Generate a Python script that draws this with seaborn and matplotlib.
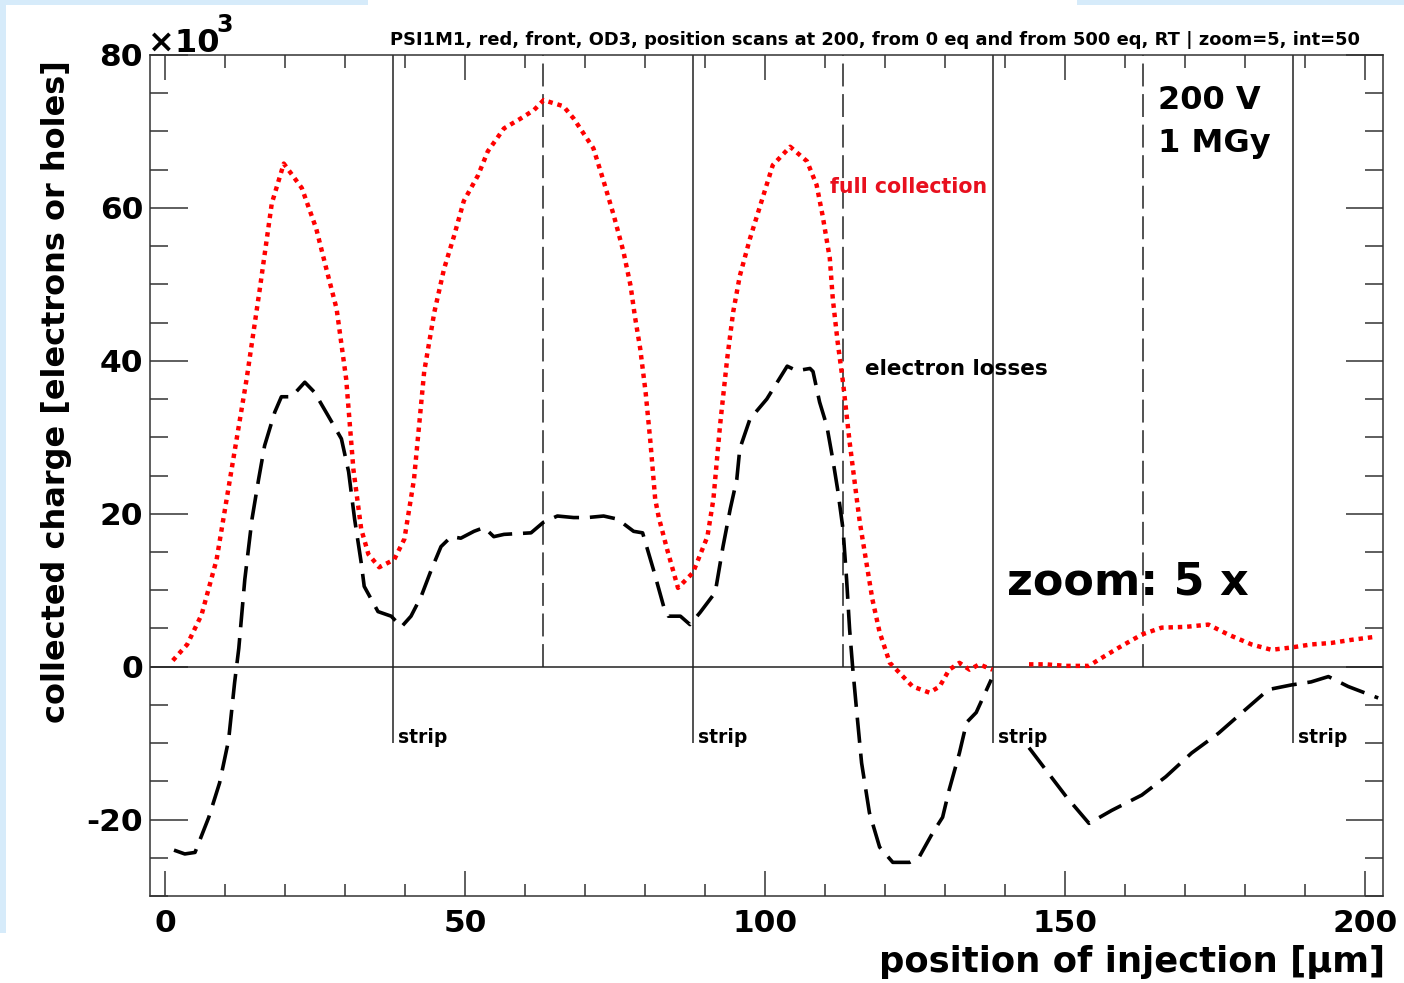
import numpy as np
import pandas as pd
import seaborn as sns
import matplotlib.pyplot as plt
from matplotlib.patches import Rectangle
from matplotlib.ticker import MultipleLocator

# full collection (red dotted): position [um] vs charge [10^3]
pos_full = [1.3, 3.7, 6.1, 8.6, 11.1, 13.6, 15.8, 17.8, 19.8, 22.8, 25.2, 26.9, 28.6,
            30.2, 31.4, 32.7, 33.9, 35.7, 37.2, 38.2, 39.9, 41.5, 43.2, 44.9, 46.5,
            48.2, 49.8, 52.2, 53.8, 56.5, 59.3, 61.5, 63.1, 66.4, 68.1, 71.4, 73.1,
            74.8, 76.4, 77.6, 78.3, 79.2, 80.1, 80.9, 81.7, 82.3, 83.7, 85.5, 88.0,
            90.4, 91.4, 92.5, 93.7, 94.7, 95.8, 97.5, 99.2, 101.3, 104.2, 107.0, 108.6,
            109.6, 110.8, 111.3, 112.1, 113.0, 114.1, 115.3, 115.8, 116.9, 117.9, 119.1,
            120.8, 122.4, 124.6, 127.4, 129.1, 130.7, 132.4, 134.1, 135.7, 137.9,
            144.0, 146.8, 150.2, 154.0, 155.6, 159.0, 162.8, 166.1, 170.1, 173.9,
            177.2, 181.1, 184.4, 187.7, 191.0, 194.4, 197.7, 201.7]
charge_full = [0.8, 2.9, 6.8, 14.0, 25.8, 37.6, 49.4, 60.6, 65.8, 62.6, 57.3, 52.0, 46.8,
               37.6, 25.8, 18.0, 14.7, 13.0, 13.6, 14.0, 16.7, 24.5, 38.6, 46.4, 52.0,
               56.4, 60.9, 64.3, 67.4, 70.4, 71.7, 72.8, 74.1, 73.3, 71.7, 67.8, 63.5,
               59.0, 54.3, 49.8, 45.9, 41.6, 35.9, 29.4, 21.9, 19.5, 15.3, 10.3, 12.3,
               17.0, 21.9, 31.5, 40.3, 46.4, 51.1, 56.0, 60.3, 65.6, 68.0, 66.1, 63.0,
               59.0, 53.4, 48.1, 42.5, 37.2, 29.4, 21.9, 18.9, 13.6, 8.8, 4.5,
               0.5, -0.8, -2.6, -3.4, -2.6, -0.4, 0.5, -0.4, 0.3, -0.4,
               0.3, 0.3, 0.1, 0.1, 0.9, 2.5, 4.2, 5.1, 5.2, 5.5,
               4.2, 2.9, 2.2, 2.5, 2.9, 3.1, 3.5, 3.9]

# electron losses (black dashed)
pos_loss = [1.5, 3.3, 5.0, 7.3, 9.1, 10.6, 11.6, 12.3, 13.3, 14.5, 15.6, 16.6, 18.3,
            19.4, 21.1, 23.3, 24.9, 27.2, 29.4, 30.6, 31.6, 32.7, 33.2, 35.5, 37.7,
            39.4, 41.0, 42.7, 44.4, 46.0, 47.7, 49.3, 51.5, 53.2, 54.8, 56.5, 58.8,
            61.0, 63.1, 65.4, 68.1, 70.4, 73.1, 75.4, 78.1, 79.6, 81.4, 83.1, 83.9,
            85.9, 87.5, 89.2, 91.7, 93.0, 94.2, 95.3, 95.8, 97.5, 100.3, 103.7, 105.3,
            107.5, 108.0, 109.1, 110.3, 111.3, 112.1, 113.0, 113.6, 114.1, 114.6, 115.3,
            116.1, 117.4, 119.1, 121.3, 124.1, 125.7, 127.9, 129.6, 130.7, 132.4,
            133.6, 135.2, 137.7,
            144.0, 146.8, 150.2, 154.0, 157.8, 162.8, 166.8, 171.1, 175.6, 180.1,
            183.9, 187.7, 191.0, 193.9, 197.2, 202.2]
charge_loss = [-24.0, -24.5, -24.3, -19.7, -15.2, -9.6, -2.1, 2.4, 11.4, 19.3, 24.5, 28.9, 33.3,
               35.3, 35.3, 37.2, 35.9, 32.8, 29.8, 25.5, 19.3, 13.6, 10.5, 7.2, 6.6,
               5.2, 6.6, 9.2, 12.7, 15.7, 17.0, 16.8, 17.7, 18.2, 17.0, 17.3, 17.4,
               17.5, 18.9, 19.7, 19.5, 19.5, 19.7, 19.3, 17.7, 17.5, 12.7, 7.9, 6.6,
               6.6, 5.5, 7.1, 9.7, 15.7, 20.6, 24.5, 28.5, 32.4, 35.0, 39.3, 38.7,
               39.0, 38.6, 34.6, 31.5, 27.1, 23.2, 18.0, 11.4, 4.9, 0.0, -6.0,
               -12.6, -19.1, -23.6, -25.6, -25.6, -24.9, -21.8, -19.7, -16.1, -11.3,
               -7.3, -6.0, -1.7,
               -10.6, -13.5, -17.0, -20.5, -18.8, -16.8, -14.4, -11.3, -8.7, -5.6,
               -3.0, -2.4, -2.0, -1.3, -2.6, -4.1]

strip_pos = [38, 88, 138, 188]
centre_pos = [63, 113, 163]
x_ticks = [0, 50, 100, 150, 200]
y_ticks = [-20, 0, 20, 40, 60, 80]
gap_after = 140  # no scan points between 138 and 144 um

title = "PSI1M1, red, front, OD3, position scans at 200, from 0 eq and from 500 eq, RT | zoom=5, int=50"

W, H = 1404, 983


def make_frame(pos, charge):
    df = pd.DataFrame({'pos': pos, 'charge': charge})
    df['part'] = (df['pos'] > gap_after).astype(int)
    return df


def main():
    sns.set_style('ticks')
    plt.rcParams['font.family'] = ['DejaVu Sans']
    plt.rcParams['axes.unicode_minus'] = False
    plt.rcParams['text.color'] = 'black'
    plt.rcParams['axes.labelcolor'] = 'black'
    plt.rcParams['xtick.labelcolor'] = 'black'
    plt.rcParams['ytick.labelcolor'] = 'black'

    fig = plt.figure(figsize=(W / 100, H / 100), dpi=100)
    ax = fig.add_axes([150 / W, 1 - 896 / H, (1383 - 150) / W, (896 - 55) / H])

    # light blue screenshot border
    blue = '#d6ebfa'
    for x0, y0, w, h in [(0, 0, 368, 5), (1077, 0, 327, 5), (0, 0, 6, 933)]:
        fig.add_artist(Rectangle((x0 / W, 1 - (y0 + h) / H), w / W, h / H,
                                 transform=fig.transFigure, color=blue, lw=0, zorder=-5))

    full = make_frame(pos_full, charge_full)
    loss = make_frame(pos_loss, charge_loss)

    ax.axhline(0, color='#222222', lw=1.1, zorder=1)
    ax.vlines(strip_pos, -10, 80, color='#222222', lw=1.1, zorder=1)
    ax.vlines(centre_pos, 0, 80, color='#222222', lw=1.1, linestyles=[(0, (15, 5))], zorder=1)

    sns.lineplot(data=loss, x='pos', y='charge', units='part', estimator=None, sort=False,
                 color='black', lw=2.6, linestyle=(0, (7, 3)), ax=ax, zorder=3)
    sns.lineplot(data=full, x='pos', y='charge', units='part', estimator=None, sort=False,
                 color='red', lw=3.2, linestyle=(0, (1, 1.1)), ax=ax, zorder=4)

    ax.set_xlim(-2.5, 203)
    ax.set_ylim(-30, 80)
    ax.set_xticks(x_ticks)
    ax.set_yticks(y_ticks)
    ax.xaxis.set_minor_locator(MultipleLocator(10))
    ax.yaxis.set_minor_locator(MultipleLocator(5))
    ax.tick_params(which='both', direction='in', top=True, right=True, width=1.1, color='#333333')
    ax.tick_params(axis='x', which='major', length=18, pad=9, labelsize=22.5)
    ax.tick_params(axis='x', which='minor', length=9)
    ax.tick_params(axis='y', which='major', length=27, pad=5, labelsize=22.5)
    ax.tick_params(axis='y', which='minor', length=13)
    for lbl in ax.get_xticklabels() + ax.get_yticklabels():
        lbl.set_fontweight('bold')
    for sp in ax.spines.values():
        sp.set_linewidth(1.1)
        sp.set_color('#333333')

    ax.set_xlabel('position of injection [μm]', fontsize=25.5, fontweight='bold', loc='right')
    ax.xaxis.label.set_va('center')
    ax.xaxis.set_label_coords(1.0016, -0.0785)
    ax.set_ylabel('collected charge [electrons or holes]', fontsize=23, fontweight='bold', loc='top')
    ax.yaxis.label.set_va('center')
    ax.yaxis.set_label_coords(-0.0762, 0.994)

    fig.text(390 / W, 1 - 45 / H, title, fontsize=12.9, fontweight='bold', ha='left', va='baseline')
    fig.text(148 / W, 1 - 52 / H, '×10', fontsize=23, fontweight='bold', ha='left', va='baseline')
    fig.text(216 / W, 1 - 32 / H, '3', fontsize=17, fontweight='bold', ha='left', va='baseline')

    for s in strip_pos:
        ax.text(s + 0.8, -10.0, 'strip', fontsize=13.5, fontweight='bold', ha='left', va='baseline')
    ax.text(110.8, 61.9, 'full collection', color='#e8101e', fontsize=14.8, fontweight='bold',
            ha='left', va='baseline')
    ax.text(116.7, 38.1, 'electron losses', fontsize=15.5, fontweight='bold', ha='left', va='baseline')
    ax.text(165.5, 73.0, '200 V', fontsize=23, fontweight='bold', ha='left', va='baseline')
    ax.text(165.5, 67.3, '1 MGy', fontsize=23, fontweight='bold', ha='left', va='baseline')
    ax.text(140.3, 9.5, 'zoom: 5 x', fontsize=32, fontweight='bold', ha='left', va='baseline')

    fig.savefig('out.png', dpi=100)
    plt.close(fig)


if __name__ == '__main__':
    main()
